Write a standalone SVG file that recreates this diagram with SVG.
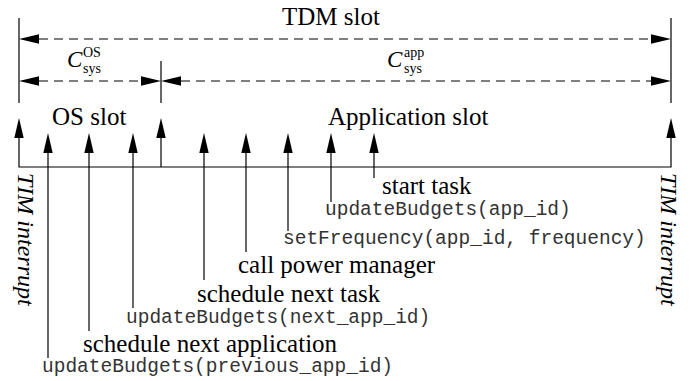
<svg xmlns="http://www.w3.org/2000/svg" width="694" height="381" viewBox="0 0 694 381">
<style>
  .ln { stroke:#000; stroke-width:1.2; fill:none; }
  .dash { stroke-dasharray:9 6; }
  .serif { font-family:"Liberation Serif","Times New Roman",serif; fill:#000; }
  .big { font-size:25px; }
  .ital { font-style:italic; }
  .mono { font-family:"Liberation Mono","Courier New",monospace; font-size:19.5px; fill:#333; }
  .sc { font-size:14px; }
</style>
<defs>
  <marker id="ah" viewBox="0 0 20 10" refX="0" refY="5" markerWidth="20" markerHeight="10" markerUnits="userSpaceOnUse" orient="auto-start-reverse">
    <path d="M0,0.3 L20,5 L0,9.7 z" fill="#000"/>
  </marker>
</defs>
<rect width="694" height="381" fill="#fff"/>

<g id="connectors">
  <line class="ln" x1="19" y1="18" x2="19" y2="103"/>
  <line class="ln" x1="161" y1="61" x2="161" y2="103"/>
  <line class="ln" x1="671" y1="18" x2="671" y2="103"/>
  <line class="ln dash" x1="39" y1="39" x2="651" y2="39" marker-start="url(#ah)" marker-end="url(#ah)"/>
  <line class="ln dash" x1="39" y1="81" x2="141" y2="81" marker-start="url(#ah)" marker-end="url(#ah)"/>
  <line class="ln dash" x1="181" y1="81" x2="651" y2="81" marker-start="url(#ah)" marker-end="url(#ah)"/>
  <polyline class="ln" points="19,138 19,167 671,167 671,138" marker-start="url(#ah)" marker-end="url(#ah)"/>
  <line class="ln" x1="161" y1="167" x2="161" y2="138" marker-end="url(#ah)"/>
  <line class="ln" x1="48" y1="358" x2="48" y2="153" marker-end="url(#ah)"/>
  <line class="ln" x1="89" y1="331" x2="89" y2="153" marker-end="url(#ah)"/>
  <line class="ln" x1="133" y1="308" x2="133" y2="153" marker-end="url(#ah)"/>
  <line class="ln" x1="204" y1="280" x2="204" y2="153" marker-end="url(#ah)"/>
  <line class="ln" x1="246" y1="252" x2="246" y2="153" marker-end="url(#ah)"/>
  <line class="ln" x1="288" y1="231" x2="288" y2="153" marker-end="url(#ah)"/>
  <line class="ln" x1="331" y1="202" x2="331" y2="153" marker-end="url(#ah)"/>
  <line class="ln" x1="374" y1="178" x2="374" y2="153" marker-end="url(#ah)"/>
</g>

<g id="tdm-slot"><text class="serif big" x="282" y="25">TDM slot</text></g>
<g id="c-os">
  <text class="serif ital" font-size="23" x="67" y="67">C</text>
  <text class="serif sc" x="83" y="57">OS</text>
  <text class="serif sc" x="83" y="73">sys</text>
</g>
<g id="c-app">
  <text class="serif ital" font-size="23" x="387" y="67">C</text>
  <text class="serif sc" x="404" y="57">app</text>
  <text class="serif sc" x="404" y="73">sys</text>
</g>
<g id="os-slot"><text class="serif big" x="52" y="125">OS slot</text></g>
<g id="app-slot"><text class="serif big" x="328" y="125">Application slot</text></g>

<g id="tim-left"><text class="serif ital" font-size="24" transform="translate(18,173) rotate(90)">TIM interrupt</text></g>
<g id="tim-right"><text class="serif ital" font-size="24" transform="translate(661,173) rotate(90)">TIM interrupt</text></g>

<g id="ev-update-prev"><text class="mono" x="42" y="372">updateBudgets(previous_app_id)</text></g>
<g id="ev-sched-app"><text class="serif big" x="83" y="352">schedule next application</text></g>
<g id="ev-update-next"><text class="mono" x="126" y="323">updateBudgets(next_app_id)</text></g>
<g id="ev-sched-task"><text class="serif big" x="197" y="302">schedule next task</text></g>
<g id="ev-power"><text class="serif big" x="238" y="273">call power manager</text></g>
<g id="ev-setfreq"><text class="mono" x="283" y="244">setFrequency(app_id, frequency)</text></g>
<g id="ev-update-app"><text class="mono" x="325" y="215">updateBudgets(app_id)</text></g>
<g id="ev-start"><text class="serif big" x="382" y="194">start task</text></g>
</svg>
